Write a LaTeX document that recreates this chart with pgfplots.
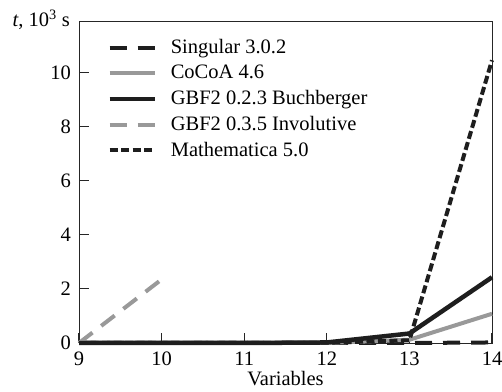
\documentclass[border=0pt]{standalone}
\usepackage{fontspec}
\setmainfont{Liberation Serif}
\usepackage{pgfplots}
\pgfplotsset{compat=1.18}
\definecolor{lgray}{HTML}{999999}
\definecolor{dk}{HTML}{1E1E1E}
\begin{document}
\fontsize{20.5}{24}\selectfont
\begin{tikzpicture}
\begin{axis}[
  scale only axis,
  width=413pt, height=322pt,
  xmin=9, xmax=14, ymin=0, ymax=11.9,
  xtick={9,10,11,12,13,14},
  ytick={0,2,4,6,8,10},
  tick align=inside,
  xtick pos=left, ytick pos=left,
  tickwidth=10pt,
  axis line style={line width=0.9pt, draw=black!85},
  xtick style={line width=1.2pt, draw=black!85},
  ytick style={line width=1.2pt, draw=black!85},
  /pgf/number format/assume math mode=true,
  tick label style={font=\fontsize{20.5}{24}\selectfont},
  xlabel={Variables},
  xlabel style={font=\fontsize{20.5}{24}\selectfont, yshift=8pt},
  xticklabel style={yshift=-2pt},
  yticklabel style={xshift=-1pt},
  clip=false,
  legend style={at={(rel axis cs:0.068,0.95)}, anchor=north west, draw=none, fill=none,
    font=\fontsize{20.5}{24}\selectfont, row sep=4.5pt, inner sep=0pt,
    legend cell align=left,
    /tikz/every odd column/.append style={column sep=12pt}},
  legend image code/.code={\draw[#1] (0pt,0pt) -- (45pt,0pt);},
]
\pgfplotsinvokeforeach{2,4,6,8,10}{\draw[line width=1pt, black!85] (axis cs:9,#1) -- ++(10pt,0pt);}
\pgfplotsinvokeforeach{10,11,12,13}{\draw[line width=1pt, black!85] (axis cs:#1,0) -- ++(0pt,10pt);}
\addplot[dk, line width=4pt, dash pattern=on 17pt off 11pt] coordinates {(9,0) (10,0) (11,0) (12,0) (13,0) (14,0.02)};
\addlegendentry{Singular 3.0.2}
\addplot[lgray, line width=4pt] coordinates {(9,0) (10,0) (11,0) (12,0) (13,0.12) (14,1.08)};
\addlegendentry{CoCoA 4.6}
\addplot[dk, line width=4.5pt] coordinates {(9,0) (10,0) (11,0) (12,0.02) (13,0.35) (14,2.43)};
\addlegendentry{GBF2 0.2.3 Buchberger}
\addplot[lgray, line width=4pt, dash pattern=on 17pt off 11pt] coordinates {(9,0) (10,2.35)};
\addlegendentry{GBF2 0.3.5 Involutive}
\addplot[dk, line width=4pt, dash pattern=on 8pt off 3.5pt] coordinates {(9,0) (10,0) (11,0) (12,0.01) (13,0.1) (14,10.45)};
\addlegendentry{Mathematica 5.0}
\coordinate (ll) at (rel axis cs:0,0);
\coordinate (ur) at (rel axis cs:1,1);
\end{axis}
\node[anchor=base east, inner sep=0pt] at ([xshift=-9pt, yshift=-6pt]ll |- ur) {\textit{t}, 10\textsuperscript{3} s};
\pgfresetboundingbox
\path ([xshift=-79pt,yshift=-49pt]ll) rectangle ([xshift=10pt,yshift=21pt]ur);
\end{tikzpicture}
\end{document}
